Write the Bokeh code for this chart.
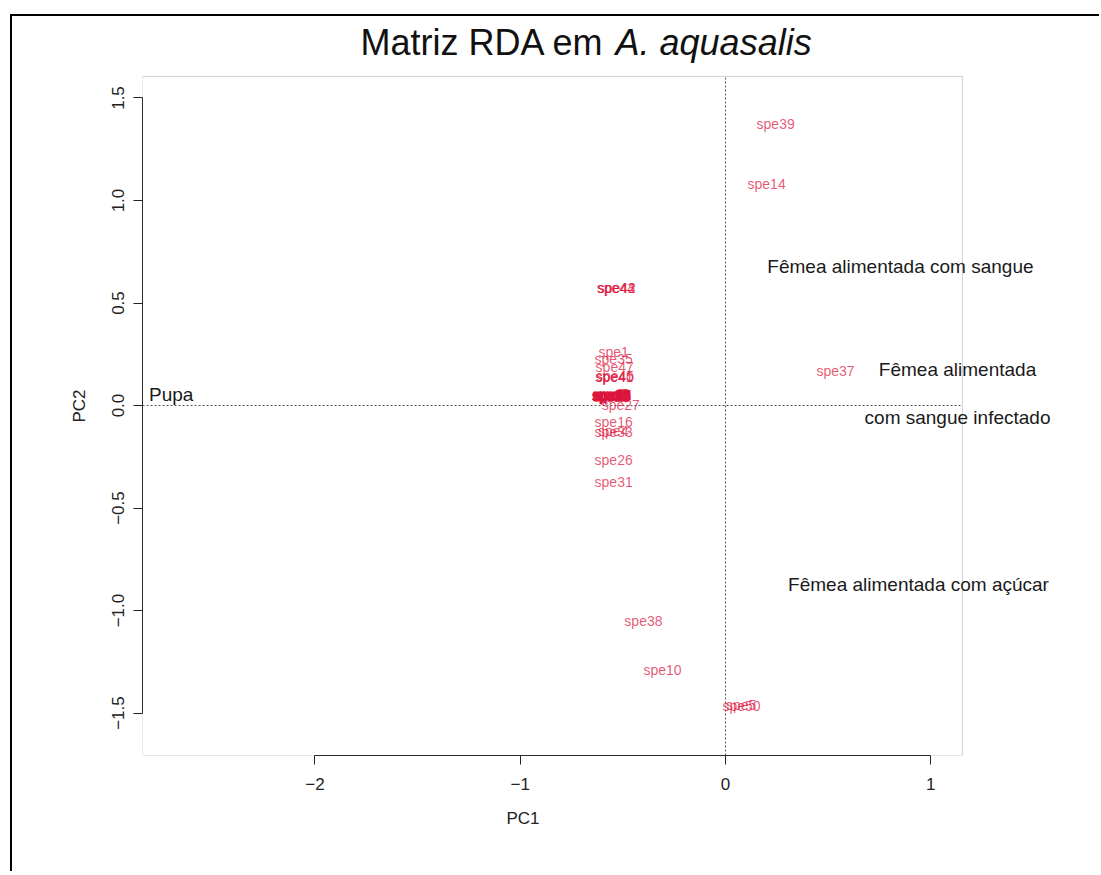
from bokeh.plotting import figure
from bokeh.models import Range1d, FixedTicker, Label, ColumnDataSource, BoxAnnotation, Title
from bokeh.core.properties import value
from bokeh.embed import file_html
from bokeh.resources import INLINE

# ---- data ----
species = ["spe39", "spe14",
           "spe42", "spe43", "spe44",
           "spe1", "spe35", "spe47",
           "spe40", "spe41", "spe45",
           "spe2", "spe3", "spe6", "spe7", "spe8", "spe9", "spe11", "spe12", "spe13",
           "spe15", "spe17", "spe18", "spe19", "spe20", "spe21", "spe22", "spe23",
           "spe24", "spe25", "spe28", "spe29", "spe30", "spe32", "spe34", "spe36",
           "spe46", "spe48", "spe49",
           "spe27", "spe16", "spe33", "spe4", "spe26", "spe31",
           "spe38", "spe10", "spe50", "spe5", "spe37"]
sp_x = [0.244, 0.200,
        -0.530, -0.532, -0.535,
        -0.545, -0.545, -0.540,
        -0.540, -0.542, -0.538,
        -0.555, -0.558, -0.552, -0.556, -0.550, -0.560, -0.555, -0.553, -0.557,
        -0.555, -0.552, -0.558, -0.556, -0.554, -0.551, -0.559, -0.555,
        -0.553, -0.557, -0.555, -0.556, -0.552, -0.558, -0.554, -0.555,
        -0.556, -0.553, -0.557,
        -0.510, -0.545, -0.545, -0.547, -0.545, -0.545,
        -0.400, -0.307, 0.078, 0.076, 0.536]
sp_y = [1.374, 1.081,
        0.575, 0.574, 0.573,
        0.263, 0.229, 0.190,
        0.141, 0.140, 0.142,
        0.049, 0.052, 0.046, 0.055, 0.043, 0.050, 0.048, 0.053, 0.045,
        0.049, 0.051, 0.047, 0.054, 0.044, 0.050, 0.048, 0.052,
        0.046, 0.049, 0.051, 0.047, 0.050, 0.053, 0.045, 0.049,
        0.048, 0.050, 0.047,
        0.005, -0.078, -0.127, -0.125, -0.268, -0.375,
        -1.050, -1.290, -1.466, -1.463, 0.166]

env_names = ["Pupa",
             "Fêmea alimentada com sangue",
             "Fêmea alimentada\ncom sangue infectado",
             "Fêmea alimentada com açúcar"]
env_x = [-2.70, 0.852, 1.13, 0.94]
env_y = [0.054, 0.680, 0.058, -0.874]

x_ticks = [-2, -1, 0, 1]
x_tick_labels = ["\u22122", "\u22121", "0", "1"]
y_ticks = [-1.5, -1.0, -0.5, 0.0, 0.5, 1.0, 1.5]
y_tick_labels = ["\u22121.5", "\u22121.0", "\u22120.5", "0.0", "0.5", "1.0", "1.5"]

title_main = "Matriz RDA em"
title_italic = "A. aquasalis"
x_label = "PC1"
y_label = "PC2"

# plot box limits (R's usr region) and extra drawing room for overflowing text
box_x = (-2.84, 1.154)
box_y = (-1.707, 1.605)
room_x_end = 1.656
room_y_end = 1.878

FONT = "Liberation Sans"

p = figure(frame_width=923, frame_height=735,
           x_range=Range1d(box_x[0], room_x_end), y_range=Range1d(box_y[0], room_y_end),
           output_backend="svg", toolbar_location=None, title=None,
           min_border_left=130, min_border_right=34,
           min_border_top=4, min_border_bottom=116)
p.margin = (14, 0, 0, 10)
p.styles = {"border-left": "2px solid black", "border-top": "2px solid black"}

p.xgrid.visible = False
p.ygrid.visible = False
p.outline_line_color = None
p.background_fill_color = "white"
p.border_fill_color = "white"

for ax, ticks, labels, bounds in ((p.xaxis[0], x_ticks, x_tick_labels, (-2, 1)),
                                  (p.yaxis[0], y_ticks, y_tick_labels, (-1.5, 1.5))):
    ax.ticker = FixedTicker(ticks=ticks)
    ax.major_label_overrides = {t: l for t, l in zip(ticks, labels)}
    ax.bounds = bounds
    ax.minor_tick_line_color = None
    ax.major_tick_in = 0
    ax.major_tick_out = 9
    ax.axis_line_color = "#222222"
    ax.major_tick_line_color = "#222222"
    ax.major_label_text_font = FONT
    ax.major_label_text_font_size = "17px"
    ax.major_label_text_color = "#222222"

p.xaxis.major_label_standoff = 13
p.yaxis.major_label_orientation = "vertical"
p.yaxis.major_label_standoff = 9

# axis titles (side-panel titles so they can sit under the plot box)
p.add_layout(Title(text=x_label, align="left", offset=364, standoff=28,
                   text_font=FONT, text_font_size="17px", text_font_style="normal",
                   text_color="#222222"), "below")
p.add_layout(Title(text=y_label, align="left", offset=333, standoff=42,
                   text_font=FONT, text_font_size="17px", text_font_style="normal",
                   text_color="#222222"), "left")

# plot box
p.add_layout(BoxAnnotation(left=box_x[0], right=box_x[1], bottom=box_y[0], top=box_y[1],
                           fill_alpha=0, line_color="#666666", line_width=1))

# dotted reference lines at 0
p.segment(x0=[box_x[0], 0], y0=[0, box_y[0]], x1=[box_x[1], 0], y1=[0, box_y[1]],
          line_color="#555555", line_width=1, line_dash="2 2")

# species labels
sp_src = ColumnDataSource(dict(x=sp_x, y=sp_y, name=species))
p.text(x="x", y="y", text="name", source=sp_src, text_align="center",
       text_baseline="middle", text_font_size="14px", text_color="crimson",
       text_alpha=0.72, text_font=value(FONT))

# environmental variable labels
env_src = ColumnDataSource(dict(x=env_x, y=env_y, name=env_names))
p.text(x="x", y="y", text="name", source=env_src, text_align="center",
       text_baseline="middle", text_font_size="19px", text_color="#1a1a1a",
       text_font=value(FONT), text_line_height=2.3)

# title in two styles
p.add_layout(Label(x=-0.565, y=1.771, text=title_main, text_align="right",
                   text_baseline="middle", x_offset=-5, text_font=FONT,
                   text_font_size="36px", text_color="#111111"))
p.add_layout(Label(x=-0.565, y=1.771, text=title_italic, text_align="left",
                   text_baseline="middle", x_offset=6, text_font=FONT,
                   text_font_size="36px", text_font_style="italic",
                   text_color="#111111"))

open("out.html", "w").write(file_html(p, INLINE))
